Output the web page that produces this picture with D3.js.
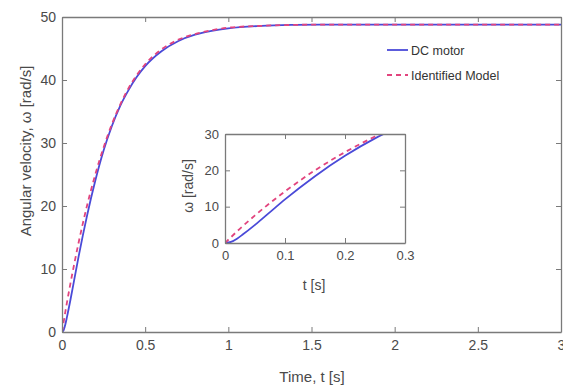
<!DOCTYPE html>
<html>
<head>
<meta charset="utf-8">
<script src="https://cdn.jsdelivr.net/npm/d3@7"></script>
<style>
  html, body { margin: 0; padding: 0; background: #fff; }
  svg { display: block; font-family: "Liberation Sans", Arial, sans-serif; }
</style>
</head>
<body>
<svg id="chart" width="563" height="388"></svg>
<script>
// values
const timeS    = [0, 0.01, 0.02, 0.03, 0.05, 0.075, 0.1, 0.15, 0.2, 0.25, 0.3, 0.35, 0.4, 0.45, 0.5, 0.6, 0.7, 0.8, 0.9, 1.0, 1.2, 1.4, 1.6, 2.0, 2.5, 3.0];
const dcMotor  = [0, 0.3, 1.2, 2.4, 5.0, 8.5, 12.0, 18.4, 24.0, 28.8, 32.7, 35.9, 38.4, 40.5, 42.2, 44.6, 46.2, 47.2, 47.8, 48.2, 48.6, 48.75, 48.8, 48.8, 48.8, 48.8];
const idModel  = [0, 1.6, 3.2, 4.7, 7.6, 11.0, 14.2, 20.0, 25.0, 29.3, 33.0, 36.1, 38.7, 40.8, 42.5, 44.9, 46.4, 47.3, 47.9, 48.3, 48.6, 48.75, 48.8, 48.8, 48.8, 48.8];

const mainXTicks = [0, 0.5, 1, 1.5, 2, 2.5, 3];
const mainYTicks = [0, 10, 20, 30, 40, 50];
const insetXTicks = [0, 0.1, 0.2, 0.3];
const insetYTicks = [0, 10, 20, 30];

const legendItems = [
  { name: 'DC motor', color: '#4a4ad8', dash: null },
  { name: 'Identified Model', color: '#e2447e', dash: '5,4' }
];

const axisColor = '#7a7a7a';
const textColor = '#4a4a4a';
const series = [
  { vals: dcMotor, color: legendItems[0].color, dash: null },
  { vals: idModel, color: legendItems[1].color, dash: '5,4' }
];

const svg = d3.select('#chart');

function drawPanel(g, box, xDom, yDom, xTicks, yTicks, opts){
  const x = d3.scaleLinear().domain(xDom).range([box.l, box.r]);
  const y = d3.scaleLinear().domain(yDom).range([box.b, box.t]);
  const tl = 5;

  g.append('rect')
    .attr('x', box.l).attr('y', box.t)
    .attr('width', box.r - box.l).attr('height', box.b - box.t)
    .attr('fill', '#fff');

  const clipId = 'clip' + opts.id;
  g.append('clipPath').attr('id', clipId)
    .append('rect').attr('x', box.l).attr('y', box.t)
    .attr('width', box.r - box.l).attr('height', box.b - box.t);

  const line = d3.line()
    .x((d, i) => x(timeS[i]))
    .y(d => y(d))
    .curve(d3.curveMonotoneX);

  const lines = g.append('g').attr('clip-path', `url(#${clipId})`);
  series.forEach(s => {
    lines.append('path')
      .attr('d', line(s.vals))
      .attr('fill', 'none')
      .attr('stroke', s.color)
      .attr('stroke-width', 1.8)
      .attr('stroke-dasharray', s.dash);
  });

  // axes with inward ticks (matlab style), box on
  const bottom = d3.axisBottom(x).tickValues(xTicks).tickSizeInner(-tl).tickSizeOuter(0).tickPadding(8).tickFormat(d3.format('~g'));
  const top = d3.axisTop(x).tickValues(xTicks).tickSizeInner(-tl).tickSizeOuter(0).tickFormat('');
  const left = d3.axisLeft(y).tickValues(yTicks).tickSizeInner(-tl).tickSizeOuter(0).tickPadding(6);
  const right = d3.axisRight(y).tickValues(yTicks).tickSizeInner(-tl).tickSizeOuter(0).tickFormat('');

  const ax = [
    g.append('g').attr('transform', `translate(0,${box.b})`).call(bottom),
    g.append('g').attr('transform', `translate(0,${box.t})`).call(top),
    g.append('g').attr('transform', `translate(${box.l},0)`).call(left),
    g.append('g').attr('transform', `translate(${box.r},0)`).call(right)
  ];
  ax.forEach(a => {
    a.select('.domain').attr('stroke', axisColor).attr('stroke-width', 1.3);
    a.selectAll('.tick line').attr('stroke', axisColor).attr('stroke-width', 1);
    a.selectAll('.tick text').attr('fill', textColor).attr('font-size', opts.fs)
      .attr('font-family', '"Liberation Sans", Arial, sans-serif');
  });
  return { x, y };
}

// main axes
const main = svg.append('g');
drawPanel(main, { l: 62, r: 561, t: 17, b: 332 }, [0, 3], [0, 50], mainXTicks, mainYTicks, { id: 'main', fs: 14 });

main.append('text')
  .attr('x', 312).attr('y', 382)
  .attr('text-anchor', 'middle')
  .attr('font-size', 15).attr('fill', textColor)
  .text('Time, t [s]');

main.append('text')
  .attr('transform', 'translate(31,151) rotate(-90)')
  .attr('text-anchor', 'middle')
  .attr('font-size', 15).attr('fill', textColor)
  .text('Angular velocity, \u03C9 [rad/s]');

// legend
const leg = svg.append('g');
legendItems.forEach((it, i) => {
  const yy = 50 + i * 25;
  leg.append('line')
    .attr('x1', 387).attr('x2', 408).attr('y1', yy).attr('y2', yy)
    .attr('stroke', it.color).attr('stroke-width', 1.8)
    .attr('stroke-dasharray', it.dash);
  leg.append('text')
    .attr('x', 411).attr('y', yy + 4.5)
    .attr('font-size', 12.5).attr('fill', '#333')
    .text(it.name);
});

// inset
const inset = svg.append('g');
drawPanel(inset, { l: 225, r: 405, t: 134, b: 243 }, [0, 0.3], [0, 30], insetXTicks, insetYTicks, { id: 'inset', fs: 13 });

inset.append('text')
  .attr('x', 314).attr('y', 290)
  .attr('text-anchor', 'middle')
  .attr('font-size', 14).attr('fill', textColor)
  .text('t [s]');

inset.append('text')
  .attr('transform', 'translate(193,186) rotate(-90)')
  .attr('text-anchor', 'middle')
  .attr('font-size', 14).attr('fill', textColor)
  .text('\u03C9 [rad/s]');
</script>
</body>
</html>
